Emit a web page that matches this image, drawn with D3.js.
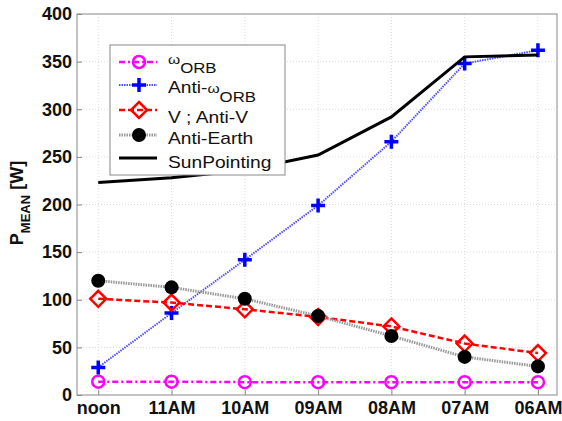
<!DOCTYPE html>
<html>
<head>
<meta charset="utf-8">
<script src="https://cdn.jsdelivr.net/npm/d3@7"></script>
<style>
body { margin: 0; background: #fff; }
</style>
</head>
<body>
<div id="chart"></div>
<script>
// x categories, from noon back to 6 in the morning
const hours = ["noon", "11AM", "10AM", "09AM", "08AM", "07AM", "06AM"];
const yTicks = [0, 50, 100, 150, 200, 250, 300, 350, 400];

// mean power per pointing mode [W]
const omegaOrb = [14, 14, 13.5, 13.5, 13.5, 13.5, 13.5];
const antiOmegaOrb = [29, 86, 142, 199, 266, 348, 362];
const vAntiV = [101, 97, 90, 82, 72, 54, 44];
const antiEarth = [120, 113, 101, 83, 62, 40, 30];
const sunPointing = [223, 228, 236, 252, 292, 355, 357];

const W = 562, H = 421;
const plotL = 77, plotR = 557, plotT = 14, plotB = 395;
const font = "Arial, 'Liberation Sans', sans-serif";

const svg = d3.select("#chart").append("svg")
  .attr("width", W).attr("height", H)
  .style("font-family", font);

const x = d3.scaleLinear().domain([-0.29, 6.26]).range([plotL, plotR]);
const y = d3.scaleLinear().domain([0, 400]).range([plotB, plotT]);

// grid
svg.append("g").selectAll("line").data(yTicks.slice(1, -1)).enter().append("line")
  .attr("x1", plotL).attr("x2", plotR)
  .attr("y1", d => y(d)).attr("y2", d => y(d))
  .attr("stroke", "#d0d0d0").attr("stroke-width", 0.8).attr("stroke-dasharray", "1,2");
svg.append("g").selectAll("line").data(hours).enter().append("line")
  .attr("x1", (d, i) => x(i)).attr("x2", (d, i) => x(i))
  .attr("y1", plotT).attr("y2", plotB)
  .attr("stroke", "#d0d0d0").attr("stroke-width", 0.8).attr("stroke-dasharray", "1,2");

// axes box
svg.append("rect").attr("x", plotL).attr("y", plotT)
  .attr("width", plotR - plotL).attr("height", plotB - plotT)
  .attr("fill", "none").attr("stroke", "#888").attr("stroke-width", 1);

const yAxis = d3.axisLeft(y).tickValues(yTicks).tickSize(-5).tickPadding(5);
const gy = svg.append("g").attr("transform", `translate(${plotL},0)`).call(yAxis);
gy.select(".domain").remove();
gy.selectAll("line").attr("stroke", "#888");
gy.selectAll("text").attr("font-size", 18).attr("font-weight", "bold")
  .attr("font-family", font).attr("fill", "#111");

const xAxis = d3.axisBottom(x).tickValues(d3.range(hours.length))
  .tickFormat(i => hours[i]).tickSize(-5).tickPadding(6);
const gx = svg.append("g").attr("transform", `translate(0,${plotB})`).call(xAxis);
gx.select(".domain").remove();
gx.selectAll("line").attr("stroke", "#888");
gx.selectAll("text").attr("font-size", 18).attr("font-weight", "bold")
  .attr("font-family", font).attr("fill", "#111");

// y label
const yl = svg.append("text")
  .attr("transform", "translate(23,203) rotate(-90)")
  .attr("text-anchor", "middle").attr("font-size", 18).attr("font-weight", "bold").attr("fill", "#111");
yl.append("tspan").text("P");
yl.append("tspan").attr("font-size", 13).attr("dy", 7).text("MEAN");
yl.append("tspan").attr("dy", -7).text(" [W]");

const line = d3.line().x((d, i) => x(i)).y(d => y(d));

const series = [
  { vals: omegaOrb, color: "#ff00ff", width: 2.5, dash: "6,3,2,3", marker: "circle" },
  { vals: antiOmegaOrb, color: "#5050ff", width: 2, dash: "1.5,1", marker: "plus" },
  { vals: vAntiV, color: "#ff0000", width: 2.5, dash: "6,3", marker: "diamond" },
  { vals: antiEarth, color: "#999", width: 3, dash: "1.5,1", marker: "dot" },
  { vals: sunPointing, color: "#000", width: 3, dash: null, marker: null }
];

function drawMarker(g, kind, cx, cy) {
  if (kind === "circle") {
    g.append("circle").attr("cx", cx).attr("cy", cy).attr("r", 6)
      .attr("fill", "none").attr("stroke", "#ff00ff").attr("stroke-width", 2.5);
  } else if (kind === "plus") {
    g.append("path").attr("d", `M${cx - 7},${cy}H${cx + 7}M${cx},${cy - 7}V${cy + 7}`)
      .attr("stroke", "#0000ff").attr("stroke-width", 3.5);
  } else if (kind === "diamond") {
    g.append("path").attr("d", `M${cx},${cy - 8}L${cx + 8},${cy}L${cx},${cy + 8}L${cx - 8},${cy}Z`)
      .attr("fill", "none").attr("stroke", "#ff0000").attr("stroke-width", 2.5);
  } else if (kind === "dot") {
    g.append("circle").attr("cx", cx).attr("cy", cy).attr("r", 7).attr("fill", "#000");
  }
}

series.forEach(s => {
  const p = svg.append("path").datum(s.vals).attr("d", line)
    .attr("fill", "none").attr("stroke", s.color).attr("stroke-width", s.width);
  if (s.dash) p.attr("stroke-dasharray", s.dash);
  if (s.marker) {
    const g = svg.append("g");
    s.vals.forEach((v, i) => drawMarker(g, s.marker, x(i), y(v)));
  }
});

// legend
const lg = svg.append("g");
lg.append("rect").attr("x", 110).attr("y", 45).attr("width", 175).attr("height", 130)
  .attr("fill", "#fff").attr("stroke", "#888").attr("stroke-width", 1);
const legendY = [62, 85, 110, 135, 158];
const baseY = [64, 93, 123, 144, 168];
// [text, font size, baseline shift]
const labels = [
  [["ω", 13, 0], ["ORB", 14, 9]],
  [["Anti-", 16, 0], ["ω", 13, 0], ["ORB", 14, 9]],
  [["V ; Anti-V", 16, 0]],
  [["Anti-Earth", 16, 0]],
  [["SunPointing", 16, 0]]
];
series.forEach((s, k) => {
  const ly = legendY[k];
  const ln = lg.append("line").attr("x1", 119).attr("x2", 157).attr("y1", ly).attr("y2", ly)
    .attr("stroke", s.color).attr("stroke-width", s.width);
  if (s.dash) ln.attr("stroke-dasharray", s.dash);
  if (s.marker) drawMarker(lg, s.marker, 139, ly);
  const t = lg.append("text").attr("x", 0).attr("y", 0).attr("fill", "#111")
    .attr("transform", `translate(168,${baseY[k]}) scale(1.2,1)`);
  let prev = 0;
  labels[k].forEach(part => {
    t.append("tspan").attr("font-size", part[1]).attr("dy", part[2] - prev).text(part[0]);
    prev = part[2];
  });
});
</script>
</body>
</html>
